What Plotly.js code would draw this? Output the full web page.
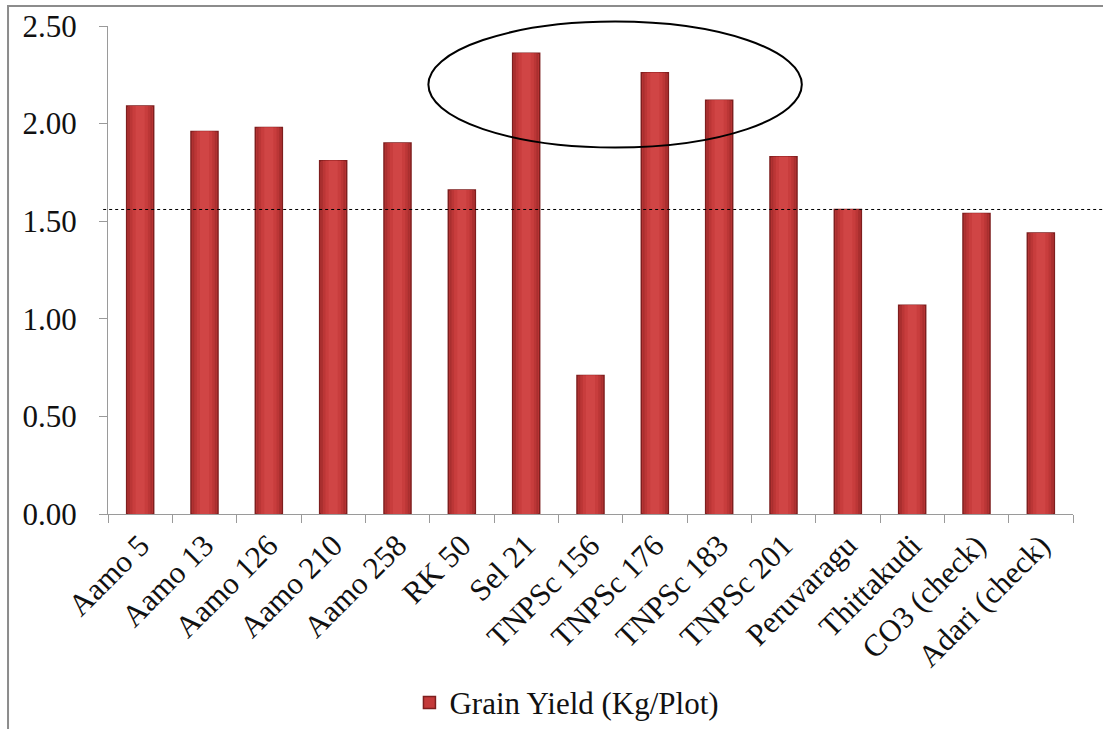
<!DOCTYPE html>
<html>
<head>
<meta charset="utf-8">
<script src="https://cdn.plot.ly/plotly-3.0.1.min.js"></script>
<style>
  html, body { margin: 0; padding: 0; background: #ffffff; }
  #chart { width: 1103px; height: 729px; }
</style>
</head>
<body>
<div id="chart"></div>
<script>
// Grain yield of each entry (Kg/Plot)
const entries = ['Aamo 5', 'Aamo 13', 'Aamo 126', 'Aamo 210', 'Aamo 258', 'RK 50', 'Sel 21',
  'TNPSc 156', 'TNPSc 176', 'TNPSc 183', 'TNPSc 201', 'Peruvaragu', 'Thittakudi',
  'CO3 (check)', 'Adari (check)'];
const grainYield = [2.09, 1.96, 1.98, 1.81, 1.90, 1.66, 2.36, 0.71, 2.26, 2.12, 1.83, 1.56, 1.07, 1.54, 1.44];
const referenceLevel = 1.56;
const seriesName = 'Grain Yield (Kg/Plot)';

const FONT = '"Liberation Serif", "Times New Roman", serif';

// Bars are built from overlaid layers of decreasing width to give a rounded look
const shadeLayers = [
  { width: 0.42, color: '#c43a3a', edge: '#7e1e1e', edgeWidth: 1.5 },
  { width: 0.38, color: '#a92f2f', edge: null, edgeWidth: 0 },
  { width: 0.32, color: '#bb3636', edge: null, edgeWidth: 0 },
  { width: 0.24, color: '#c83d3d', edge: null, edgeWidth: 0 },
  { width: 0.14, color: '#d04545', edge: null, edgeWidth: 0 }
];

const traces = shadeLayers.map((layer, i) => ({
  type: 'bar',
  x: entries,
  y: grainYield,
  name: seriesName,
  width: layer.width,
  showlegend: i === 0,
  hoverinfo: i === 0 ? 'x+y' : 'skip',
  marker: {
    color: layer.color,
    line: { width: layer.edgeWidth, color: layer.edge || layer.color }
  }
}));

const layout = {
  width: 1103,
  height: 729,
  margin: { l: 108, r: 30, t: 26, b: 215 },
  paper_bgcolor: '#ffffff',
  plot_bgcolor: '#ffffff',
  barmode: 'overlay',
  bargap: 0.58,
  font: { family: FONT, size: 31, color: '#111111' },
  xaxis: {
    type: 'category',
    tickangle: -45,
    ticks: 'outside',
    tickson: 'boundaries',
    ticklen: 8,
    tickcolor: '#9a9a9a',
    showline: true,
    linecolor: '#9a9a9a',
    linewidth: 1,
    showgrid: false,
    zeroline: false,
    automargin: false,
    tickfont: { family: FONT, size: 31, color: '#111111' },
    fixedrange: true
  },
  yaxis: {
    range: [0, 2.5],
    dtick: 0.5,
    tickformat: '.2f',
    ticks: 'outside',
    ticklen: 8,
    tickcolor: '#9a9a9a',
    showline: true,
    linecolor: '#9a9a9a',
    linewidth: 1,
    showgrid: false,
    zeroline: false,
    automargin: false,
    ticklabelstandoff: 16,
    tickfont: { family: FONT, size: 31, color: '#111111' },
    fixedrange: true
  },
  legend: {
    orientation: 'h',
    xref: 'container',
    yref: 'container',
    x: 0.514,
    xanchor: 'center',
    y: 0.036,
    yanchor: 'middle',
    font: { family: FONT, size: 31, color: '#111111' },
    bgcolor: 'rgba(0,0,0,0)'
  },
  shapes: [
    // outer chart frame
    { type: 'rect', xref: 'paper', yref: 'paper', x0: -0.1036, x1: 1.3, y0: 1.041, y1: -1.0,
      line: { color: '#8c8c8c', width: 2 }, fillcolor: 'rgba(0,0,0,0)', layer: 'below' },
    // reference level
    { type: 'line', xref: 'paper', yref: 'y', x0: -0.005, x1: 1.032, y0: referenceLevel, y1: referenceLevel,
      line: { color: '#000000', width: 1, dash: 'dot' } },
    // highlight of the top-yielding entries
    { type: 'circle', xref: 'paper', yref: 'paper', x0: 0.332, x1: 0.719, y0: 0.751, y1: 1.009,
      line: { color: '#000000', width: 2 } }
  ]
};

Plotly.newPlot('chart', traces, layout, { displayModeBar: false, staticPlot: true });
</script>
</body>
</html>
